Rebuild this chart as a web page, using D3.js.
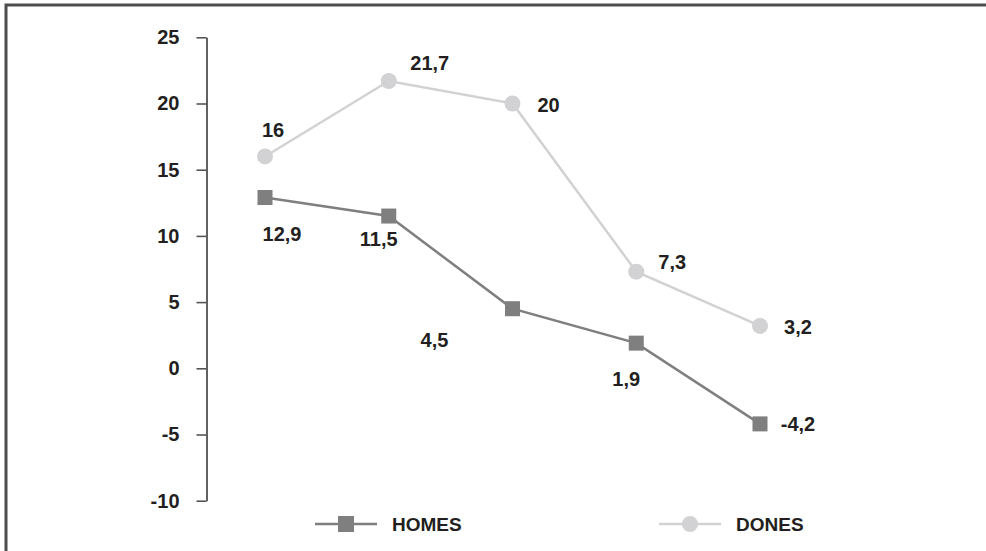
<!DOCTYPE html>
<html>
<head>
<meta charset="utf-8">
<script src="https://cdn.jsdelivr.net/npm/d3@7"></script>
<style>
  html, body { margin: 0; padding: 0; background: #fff; }
  svg { display: block; }
  text { font-family: "Liberation Sans", Arial, Helvetica, sans-serif; font-weight: bold; fill: #231f20; }
</style>
</head>
<body>
<svg id="chart" width="986" height="551"></svg>
<script>
// Data
const categories = ["1", "2", "3", "4", "5"];
const homes = [12.9, 11.5, 4.5, 1.9, -4.2];
const dones = [16, 21.7, 20, 7.3, 3.2];
const homesLabels = ["12,9", "11,5", "4,5", "1,9", "-4,2"];
const donesLabels = ["16", "21,7", "20", "7,3", "3,2"];
const yTicks = [-10, -5, 0, 5, 10, 15, 20, 25];
const seriesNames = ["HOMES", "DONES"];

// Label placement around each point (centre offsets in px)
const homesOffsets = [[17, 36], [-10, 23], [-78, 31], [-10, 36], [38, 0]];
const donesOffsets = [[8, -27], [41, -18], [36, 1], [36, -10], [38, 1]];

const svg = d3.select("#chart");
const FONT = 20;
const LEG_FONT = 19;
const darkCol = "#7f7f7f";
const lightCol = "#d2d2d4";

// Frame
svg.append("path")
  .attr("d", "M6,551 V5 H986")
  .attr("fill", "none")
  .attr("stroke", "#4d4d4d")
  .attr("stroke-width", 3);

const x = d3.scalePoint().domain(categories).range([265, 760]);
const y = d3.scaleLinear().domain([-10, 25]).range([500.7, 37.3]);

// Y axis (plain hyphen for negatives)
const yAxis = d3.axisLeft(y)
  .tickValues(yTicks)
  .tickSize(10)
  .tickSizeOuter(0)
  .tickPadding(17)
  .tickFormat(d => String(d));

const gAxis = svg.append("g")
  .attr("transform", "translate(206.5,0)")
  .call(yAxis);
gAxis.select(".domain").attr("stroke", "#3a3a3a").attr("stroke-width", 1.6);
gAxis.selectAll(".tick line").attr("stroke", "#555").attr("stroke-width", 1.6);
gAxis.selectAll(".tick text")
  .style("font-size", FONT + "px")
  .style("font-family", "'Liberation Sans', Arial, sans-serif")
  .style("font-weight", "bold")
  .attr("fill", "#231f20");

const line = d3.line()
  .x((d, i) => x(categories[i]))
  .y(d => y(d));

// DONES series
svg.append("path")
  .datum(dones)
  .attr("d", line)
  .attr("fill", "none")
  .attr("stroke", lightCol)
  .attr("stroke-width", 2.5);
svg.selectAll(".dot-dones")
  .data(dones)
  .join("circle")
  .attr("class", "dot-dones")
  .attr("cx", (d, i) => x(categories[i]))
  .attr("cy", d => y(d))
  .attr("r", 8)
  .attr("fill", lightCol);

// HOMES series
svg.append("path")
  .datum(homes)
  .attr("d", line)
  .attr("fill", "none")
  .attr("stroke", darkCol)
  .attr("stroke-width", 2.5);
const sq = 15;
svg.selectAll(".dot-homes")
  .data(homes)
  .join("rect")
  .attr("class", "dot-homes")
  .attr("x", (d, i) => x(categories[i]) - sq / 2)
  .attr("y", d => y(d) - sq / 2)
  .attr("width", sq)
  .attr("height", sq)
  .attr("fill", darkCol);

// Value labels
function addLabels(values, labels, offsets, cls) {
  svg.selectAll("." + cls)
    .data(values)
    .join("text")
    .attr("class", cls)
    .attr("x", (d, i) => x(categories[i]) + offsets[i][0])
    .attr("y", (d, i) => y(d) + offsets[i][1])
    .attr("dy", "0.36em")
    .attr("text-anchor", "middle")
    .style("font-size", FONT + "px")
    .text((d, i) => labels[i]);
}
addLabels(homes, homesLabels, homesOffsets, "lab-homes");
addLabels(dones, donesLabels, donesOffsets, "lab-dones");

// Legend
const legY = 524;
const legend = svg.append("g");
const items = [
  { name: seriesNames[0], x0: 315, col: darkCol, shape: "square" },
  { name: seriesNames[1], x0: 659, col: lightCol, shape: "circle" }
];
items.forEach(it => {
  const g = legend.append("g").attr("transform", `translate(${it.x0},${legY})`);
  g.append("line").attr("x1", 0).attr("x2", 62).attr("y1", 0).attr("y2", 0)
    .attr("stroke", it.col).attr("stroke-width", 2.5);
  if (it.shape === "square") {
    g.append("rect").attr("x", 31 - 8).attr("y", -8).attr("width", 16).attr("height", 16).attr("fill", it.col);
  } else {
    g.append("circle").attr("cx", 31).attr("cy", 0).attr("r", 8).attr("fill", it.col);
  }
  g.append("text").attr("x", 77).attr("y", 0).attr("dy", "0.36em")
    .style("font-size", LEG_FONT + "px").text(it.name);
});
</script>
</body>
</html>
